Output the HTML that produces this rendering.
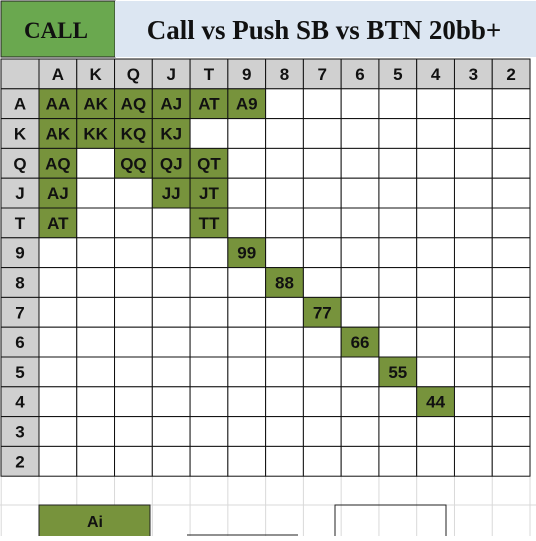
<!DOCTYPE html>
<html><head><meta charset="utf-8"><style>
body{margin:0;width:536px;height:536px;background:#fff;overflow:hidden;font-family:"Liberation Sans",sans-serif}
svg text{font-family:"Liberation Sans",sans-serif;font-weight:bold}
</style></head><body>
<svg width="536" height="536">
<g id="bg" stroke="#d9d9d9" stroke-width="1"></g>
<rect x="1" y="1" width="114" height="56" fill="#6aa84f" stroke="#222"/>
<text x="56" y="38" text-anchor="middle" font-size="23" style="font-family:'Liberation Serif',serif" fill="#111">CALL</text>
<rect x="115" y="1" width="421" height="56" fill="#dce6f2"/>
<text x="324" y="39" text-anchor="middle" font-size="27" style="font-family:'Liberation Serif',serif" fill="#111">Call vs Push SB vs BTN 20bb+</text>
<g id="grid"></g>
<rect x="39" y="505" width="111" height="32" fill="#77933c" stroke="#222"/>
<text x="95" y="527" text-anchor="middle" font-size="16" fill="#111">Ai</text>
<path d="M335 536V505H446V536M187 535H298" fill="none" stroke="#222"/>
</svg>
<script>
const ranks=["A","K","Q","J","T","9","8","7","6","5","4","3","2"];
const suitedAndPairs=["AA","AK","AQ","AJ","AT","A9","KK","KQ","KJ","QQ","QJ","QT","JJ","JT","TT","99","88","77","66","55","44"];
const offsuit=["AK","AQ","AJ","AT"];
const x0=39,cw=37.77,y0=59,rh=29.8;
const ns="http://www.w3.org/2000/svg";
const g=document.getElementById('grid'),bg=document.getElementById('bg');
function mk(t,a,p){const e=document.createElementNS(ns,t);for(const k in a)e.setAttribute(k,a[k]);p.appendChild(e);return e;}
for(let i=0;i<15;i++){mk('line',{x1:x0+i*cw-cw,y1:477,x2:x0+i*cw-cw,y2:536},bg);}
mk('line',{x1:0,y1:505,x2:536,y2:505},bg);
for(let r=-1;r<13;r++){for(let c=-1;c<13;c++){
 const x=x0+c*cw,y=y0+(r+1)*rh,w=c<0?x0-1:cw;const xx=c<0?1:x;
 let fill="#fff",txt="";
 if(r<0||c<0){fill="#d0d0d0";txt=r<0?(c<0?"":ranks[c]):ranks[r];}
 else{const h=ranks[Math.min(r,c)]+ranks[Math.max(r,c)];
  const on=c>=r?suitedAndPairs.includes(h):offsuit.includes(h);
  if(on){fill="#77933c";txt=h;}}
 const rc=mk('rect',{x:xx,y:y,width:w,height:rh,fill:fill,stroke:"#111","stroke-width":1},g);
 
 
 if(txt){const t=mk('text',{x:xx+w/2,y:y+rh/2+6,"text-anchor":"middle","font-size":17,fill:"#111"},g);t.textContent=txt;
 
 }
}}
</script>
</body></html>
